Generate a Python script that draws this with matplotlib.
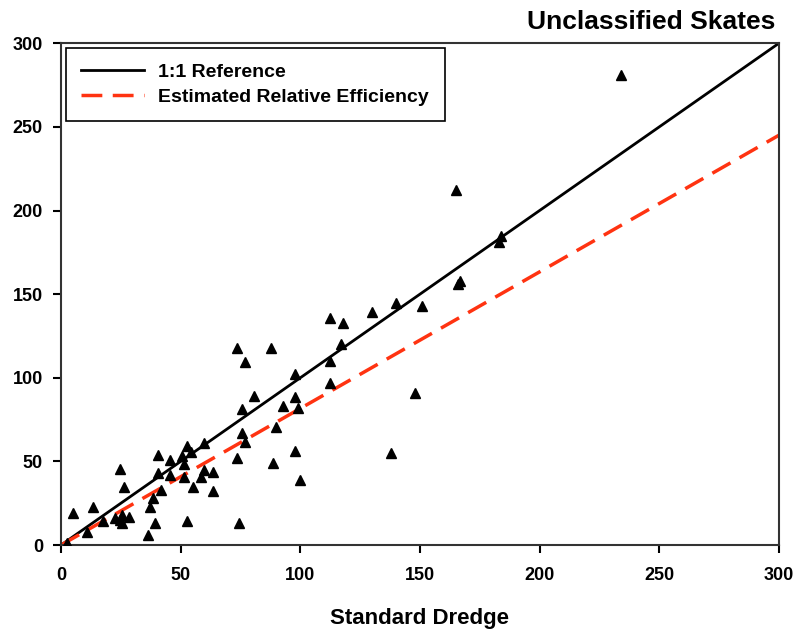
import matplotlib.pyplot as plt
import numpy as np

plt.rcParams['font.family'] = ['Liberation Sans', 'DejaVu Sans']
plt.rcParams['font.weight'] = 'bold'

# standard dredge catch vs. alternate dredge catch
std_dredge = [2.4, 5.1, 10.7, 13.5, 17.7, 22.6, 24.5, 25.4, 28.5, 25.4,
              24.7, 26.5, 36.5, 37.2, 38.6, 39.3, 40.7, 40.7, 41.7, 45.5,
              45.5, 50.4, 51.5, 51.5, 52.5, 54.2, 52.6, 55.3, 58.4, 59.9,
              59.8, 63.7, 63.7, 73.7, 73.7, 74.5, 75.5, 75.5, 76.8, 76.9,
              80.7, 87.8, 88.7, 89.8, 92.6, 97.6, 97.8, 97.6, 99.2, 99.8,
              112.4, 112.4, 112.6, 116.9, 117.7, 129.8, 137.9, 139.9, 147.9, 151.0,
              165.0, 165.9, 166.7, 183.2, 183.8, 234.0]
alt_dredge = [1.0, 19.3, 8.0, 22.9, 14.5, 16.0, 15.0, 17.9, 16.9, 13.0,
              45.2, 34.9, 6.0, 22.9, 27.9, 13.0, 53.8, 43.2, 32.9, 50.8,
              41.8, 53.2, 48.2, 40.8, 59.2, 55.8, 14.1, 34.5, 40.8, 44.8,
              60.8, 43.8, 32.5, 117.9, 52.0, 13.0, 81.1, 66.8, 109.2, 61.7,
              89.0, 117.9, 48.8, 70.7, 83.0, 102.2, 88.3, 56.2, 81.7, 39.0,
              135.8, 110.0, 96.8, 120.1, 132.9, 139.1, 54.8, 145.0, 91.0, 143.0,
              212.2, 156.0, 158.0, 181.3, 184.5, 281.0]

ref_x = [0, 300]
ref_y = [0, 300]
eff_x = [0, 300]
eff_y = [0, 245]

fig = plt.figure(figsize=(8.03, 6.36), dpi=100)
ax = fig.add_axes([0.076, 0.143, 0.894, 0.789])

ax.plot(ref_x, ref_y, '-', color='black', linewidth=2, label='1:1 Reference', zorder=2)
ax.plot(eff_x, eff_y, '--', color='#ff3311', linewidth=2.5, dashes=(6, 3),
        label='Estimated Relative Efficiency', zorder=2)
ax.plot(std_dredge, alt_dredge, '^', color='black', markersize=7.5,
        linestyle='none', zorder=3)

ax.set_xlim(0, 300)
ax.set_ylim(0, 300)
ax.set_xticks(range(0, 301, 50))
ax.set_yticks(range(0, 301, 50))
ax.tick_params(direction='out', length=6, width=1.5, labelsize=13)
ax.tick_params(axis='x', pad=10)
ax.tick_params(axis='y', pad=7)
for s in ax.spines.values():
    s.set_linewidth(1.5)
    s.set_color('#333333')

ax.set_xlabel('Standard Dredge', fontsize=16, fontweight='bold', labelpad=17)
fig.text(0.965, 0.965, 'Unclassified Skates', ha='right', va='center',
         fontsize=19, fontweight='bold')

leg = ax.legend(loc='upper left', bbox_to_anchor=(0.0, 1.0), borderaxespad=0.25,
                fontsize=14, fancybox=False, framealpha=1, edgecolor='black',
                handlelength=3.2, handletextpad=0.75, borderpad=0.8,
                labelspacing=0.35)
leg.get_frame().set_linewidth(1.2)

plt.savefig('out.png', dpi=100)
